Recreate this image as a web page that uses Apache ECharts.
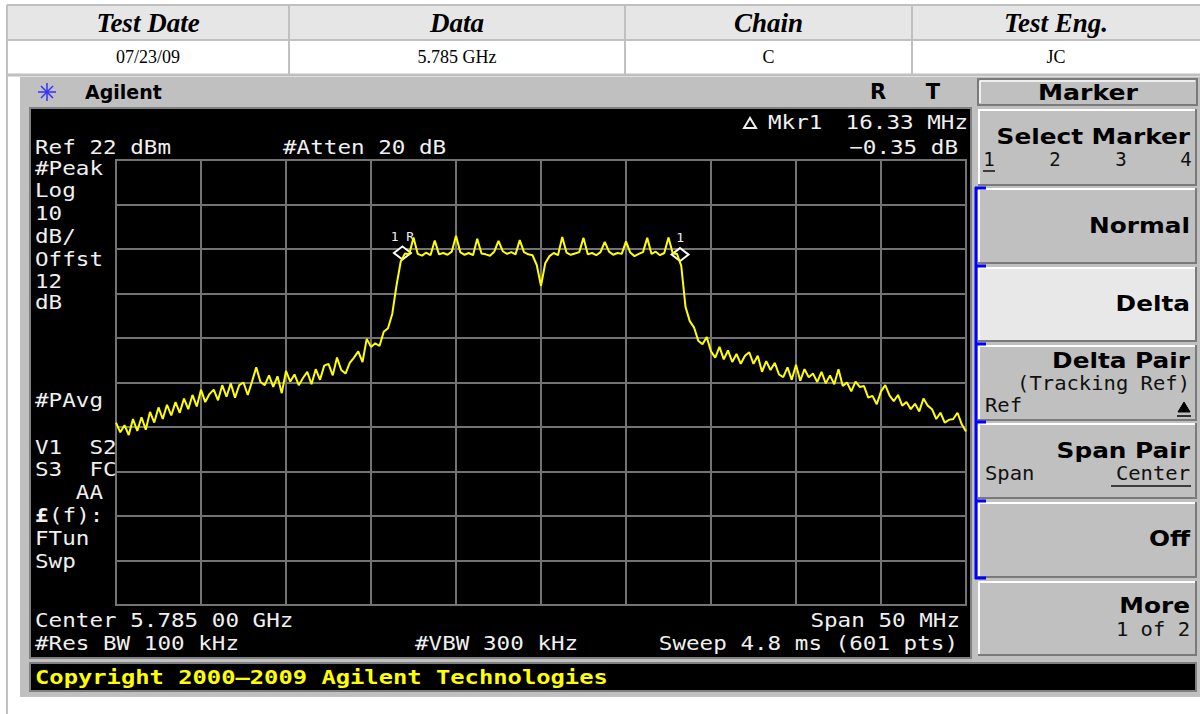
<!DOCTYPE html>
<html><head><meta charset="utf-8">
<script src="https://cdn.jsdelivr.net/npm/echarts@6/dist/echarts.min.js"></script>
<style>html,body{margin:0;padding:0;background:#fff;overflow:hidden}#c{width:1200px;height:714px}</style>
</head><body><div id="c"></div>
<script>
// ---------- data ----------
const tableHeaders = ['Test Date', 'Data', 'Chain', 'Test Eng.'];
const tableValues = ['07/23/09', '5.785 GHz', 'C', 'JC'];
const sweepStartMHz = -25;   // relative to 5.785 GHz centre
const sweepStepMHz = 0.25;
const traceLevels = [
  -37.0,-39.2,-37.6,-39.8,-36.2,-38.9,-35.8,-38.6,-34.6,-37.0,
  -33.6,-36.2,-33.0,-35.4,-32.4,-34.8,-31.6,-34.0,-30.8,-33.4,
  -29.6,-32.4,-30.6,-29.6,-32.0,-28.6,-31.2,-28.2,-31.4,-28.6,
  -28.0,-30.8,-27.8,-24.6,-27.9,-28.6,-26.4,-29.0,-26.6,-30.4,
  -25.4,-27.8,-26.2,-28.6,-27.0,-25.6,-28.4,-25.0,-27.4,-24.2,
  -23.8,-26.4,-22.4,-25.2,-26.0,-23.6,-22.4,-21.0,-23.4,-18.2,
  -20.0,-19.2,-19.8,-16.6,-15.8,-12.6,-6.2,-0.8,1.0,0.8,
  4.6,0.9,0.5,1.2,0.6,3.9,0.8,1.1,0.7,1.4,
  5.0,1.3,0.7,1.1,0.6,4.3,1.0,0.8,0.5,1.4,
  3.8,1.5,0.9,1.3,0.8,4.0,1.3,0.8,0.6,-1.6,
  -6.3,-1.2,0.4,1.1,0.6,4.7,1.2,0.7,1.0,1.3,
  4.5,0.8,1.1,0.6,1.3,3.6,1.4,0.7,1.1,0.9,
  3.7,1.2,0.4,0.9,1.3,4.5,0.9,1.4,0.6,1.1,
  4.6,1.0,0.9,-1.8,-11.0,-14.2,-15.6,-18.6,-19.4,-17.8,
  -21.0,-22.4,-20.0,-22.8,-20.8,-23.4,-21.6,-23.8,-22.0,-21.2,
  -23.8,-22.0,-25.6,-23.2,-25.2,-23.6,-26.2,-26.8,-24.6,-27.4,
  -24.0,-27.6,-25.0,-26.8,-26.0,-27.9,-25.6,-28.2,-26.4,-28.4,
  -25.0,-28.8,-28.0,-30.0,-27.8,-29.0,-28.8,-31.4,-31.0,-32.9,
  -30.0,-28.6,-30.9,-32.2,-30.8,-33.2,-32.4,-34.0,-32.8,-34.5,
  -31.6,-33.2,-34.0,-36.2,-34.8,-37.0,-36.4,-36.2,-34.8,-37.4,
  -39.0
];
const markerFreqs = [-8.15, 8.18];
const markerLevels = [1.1, 0.75];
const markerLabels = ['1 R', '1'];
const refLevel = 22, dbPerDiv = 10, divisions = 10;

// ---------- helpers ----------
const MONO = '"DejaVu Sans Mono", monospace';
const SANS = '"DejaVu Sans", sans-serif';
const SERIF = '"Liberation Serif", "Times New Roman", serif';
const G = [];
function rect(x, y, w, h, fill, stroke, lw, z) {
  G.push({type: 'rect', z: z || 1, shape: {x, y, width: w, height: h},
    style: {fill: fill || 'none', stroke: stroke || null, lineWidth: lw || 0}, silent: true});
}
function line(x1, y1, x2, y2, stroke, lw, z) {
  G.push({type: 'line', z: z || 2, shape: {x1, y1, x2, y2}, style: {stroke, lineWidth: lw || 1}, silent: true});
}
function text(x, y, s, font, fill, align, sx, z) {
  G.push({type: 'text', z: z || 5, x, y, scaleX: sx || 1, silent: true,
    style: {text: s, font, fill, align: align || 'left', verticalAlign: 'middle',
      textAlign: align || 'left', textVerticalAlign: 'middle'}});
}
function dtext(x, y, s, align) { text(x, y, s, '20px ' + MONO, '#f0f0f0', align, 1.13, 6); }

// ---------- header table ----------
const colX = [7, 289, 625, 912, 1200];
rect(7, 5, 1193, 35, '#e6e6e6', null, 0, 1);
line(7, 5, 1200, 5, '#c0c0c0', 2);
line(7, 40, 1200, 40, '#c0c0c0', 2);
line(7, 75, 1200, 75, '#c0c0c0', 3);
colX.slice(0, 4).forEach(x => line(x, 5, x, 75, '#c0c0c0', 2));
tableHeaders.forEach((h, i) => text((colX[i] + colX[i + 1]) / 2, 23, h, 'italic bold 27px ' + SERIF, '#000', 'center'));
tableValues.forEach((v, i) => text((colX[i] + colX[i + 1]) / 2, 57, v, '18px ' + SERIF, '#000', 'center'));
line(7, 75, 7, 714, '#c0c0c0', 2);

// ---------- instrument bezel ----------
rect(20, 77, 1180, 620, '#c0c0c0', null, 0, 0);
rect(30, 108, 941, 550, '#000000', '#808080', 2, 1);
// Agilent title bar
text(85, 92, 'Agilent', 'bold 19px ' + SANS, '#000', 'left');
text(878, 92, 'R', 'bold 21px ' + SANS, '#000', 'center');
text(933, 92, 'T', 'bold 21px ' + SANS, '#000', 'center');
// logo (starburst)
[[0, 9], [9, 0], [6, 6], [6, -6]].forEach(([dx, dy]) => line(47 - dx, 92 - dy, 47 + dx, 92 + dy, '#3030ff', 1.5, 3));
// copyright bar
rect(30, 663, 1166, 28, '#000000', '#808080', 2, 1);
text(35, 677, 'Copyright 2000\u20132009 Agilent Technologies', 'bold 20px ' + MONO, '#ffff00', 'left', 1.19);

// display annotations
dtext(35, 147, 'Ref 22 dBm');
dtext(283, 147, '#Atten 20 dB');
G.push({type: 'polygon', z: 6, shape: {points: [[744, 128], [750, 118], [756, 128]]}, style: {fill: 'none', stroke: '#eee', lineWidth: 2}, silent: true});
dtext(768, 122, 'Mkr1');
dtext(968, 122, '16.33 MHz', 'right');
dtext(958, 147, '\u22120.35 dB', 'right');
[['#Peak', 168], ['Log', 190], ['10', 213], ['dB/', 236], ['Offst', 259], ['12', 281], ['dB', 302],
 ['#PAvg', 400], ['V1  S2', 447], ['S3  FC', 469], ['   AA', 492], ['FTun', 538], ['Swp', 561]]
  .forEach(([s, y]) => dtext(35, y, s));
text(35, 515, '\u00a3', 'bold 20px ' + MONO, '#f0f0f0', 'left', 1.13, 6);
dtext(49, 515, '(f):');
dtext(35, 620, 'Center 5.785 00 GHz');
dtext(35, 643, '#Res BW 100 kHz');
dtext(415, 643, '#VBW 300 kHz');
dtext(960, 620, 'Span 50 MHz', 'right');
dtext(958, 643, 'Sweep 4.8 ms (601 pts)', 'right');

// ---------- soft keys ----------
function key(y1, y2, fill) {
  rect(978, y1, 219, y2 - y1, fill, null, 0, 1);
  line(978, y1 + 1, 1197, y1 + 1, '#ffffff', 2);
  line(979, y1, 979, y2, '#ffffff', 2);
  line(978, y2 - 1, 1197, y2 - 1, '#7a7a7a', 2);
  line(1196, y1, 1196, y2, '#7a7a7a', 2);
}
rect(978, 79, 219, 26, '#c0c0c0', '#7a7a7a', 2, 1);
line(980, 81, 1195, 81, '#fff', 1.5); line(980, 81, 980, 103, '#fff', 1.5);
G.push({type: 'text', z: 5, x: 1088, y: 92, scaleX: 1.2, silent: true,
  style: {text: 'Marker', font: 'bold 21px ' + SANS, fill: '#000', align: 'center', verticalAlign: 'middle', textAlign: 'center', textVerticalAlign: 'middle'}});
key(109, 186, '#c0c0c0');
key(188, 264, '#c0c0c0');
key(267, 342, '#e8e8e8');
key(345, 421, '#c0c0c0');
key(423, 499, '#c0c0c0');
key(502, 578, '#c0c0c0');
key(581, 656, '#c0c0c0');
const KB = 'bold 21px ' + SANS, KN = '19px ' + MONO;
function kb(y, s) { text(1190, y, s, KB, '#000', 'right', 1.18); }
function kn(x, y, s, align) { text(x, y, s, KN, '#111', align, 1.08); }
kb(137, 'Select Marker');
[['1', 989], ['2', 1055], ['3', 1121], ['4', 1186]].forEach(([s, x]) => text(x, 159, s, KN, '#111', 'center'));
line(983, 171, 995, 171, '#111', 1.5);
kb(226, 'Normal');
kb(304, 'Delta');
kb(361, 'Delta Pair');
kn(1190, 384, '(Tracking Ref)', 'right');
kn(985, 406, 'Ref', 'left');
G.push({type: 'polygon', z: 6, shape: {points: [[1178, 412], [1184, 402], [1190, 412]]}, style: {fill: '#000', stroke: '#000', lineWidth: 1}, silent: true});
line(1177, 416, 1191, 416, '#000', 1.5);
kb(451, 'Span Pair');
kn(985, 474, 'Span', 'left');
kn(1190, 474, 'Center', 'right');
line(1111, 486, 1191, 486, '#111', 1.5);
kb(539, 'Off');
kb(606, 'More');
kn(1190, 630, '1 of 2', 'right');
// blue bracket
line(976, 187, 976, 579, '#0000ff', 3, 3);
[188, 266, 344, 422, 501, 578].forEach(y => line(975, y, 986, y, '#0000ff', 3, 3));

// ---------- chart ----------
const traceData = traceLevels.map((v, i) => [sweepStartMHz + i * sweepStepMHz, v]);
const bottom = refLevel - dbPerDiv * divisions;
const chart = echarts.init(document.getElementById('c'), null, {renderer: 'svg'});
chart.setOption({
  animation: false,
  backgroundColor: '#ffffff',
  grid: {left: 116, top: 160, width: 850, height: 445, show: true, borderColor: '#737373', borderWidth: 2, z: 3},
  xAxis: {type: 'value', min: -25, max: 25, interval: 5, z: 3,
    axisLine: {show: false}, axisTick: {show: false}, axisLabel: {show: false},
    splitLine: {show: true, lineStyle: {color: '#737373', width: 2}}},
  yAxis: {type: 'value', min: bottom, max: refLevel, interval: dbPerDiv, z: 3,
    axisLine: {show: false}, axisTick: {show: false}, axisLabel: {show: false},
    splitLine: {show: true, lineStyle: {color: '#737373', width: 2}}},
  graphic: {elements: G},
  series: [{
    type: 'line', data: traceData, showSymbol: false, z: 10, clip: true,
    lineStyle: {color: '#ffff00', width: 2}, silent: true,
    markPoint: {
      symbol: 'diamond', symbolSize: [17, 13], silent: true,
      itemStyle: {color: '#000', borderColor: '#ffffff', borderWidth: 2},
      label: {show: true, position: 'top', distance: 3, color: '#eeeeee', fontFamily: 'DejaVu Sans Mono', fontSize: 13},
      data: markerFreqs.map((f, i) => ({coord: [f, markerLevels[i]], label: {formatter: markerLabels[i]}}))
    }
  }]
});
</script></body></html>
